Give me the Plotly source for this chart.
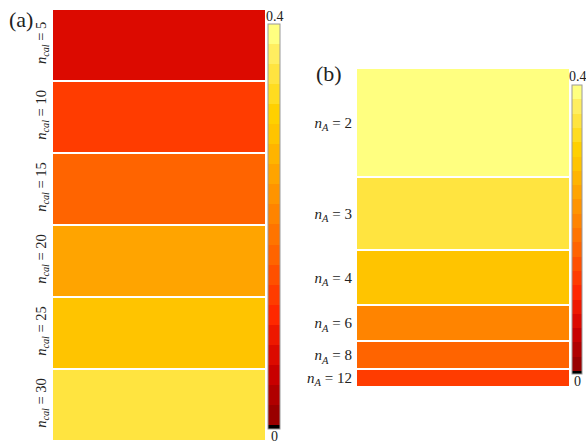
import plotly.graph_objects as go

# Panel (a): one error value per calibration-set size
ncal = [5, 10, 15, 20, 25, 30]
err_a = [0.080, 0.135, 0.180, 0.255, 0.300, 0.350]

# Panel (b): one error value per number of anchors
n_a = [2, 3, 4, 6, 8, 12]
err_b = [0.395, 0.350, 0.300, 0.220, 0.180, 0.135]

ZMIN, ZMAX = 0.0, 0.4

# Stepped "hot"-like palette: thin black floor, then 20 discrete bands
band_colors = [
    "#990000", "#b00000", "#c80000", "#dc0a00", "#ee1800",
    "#ff2800", "#ff3c00", "#ff5000", "#ff6400", "#ff7400",
    "#ff8400", "#ff9400", "#ffa400", "#ffb400", "#ffc400",
    "#ffd000", "#ffdc20", "#ffe440", "#ffee60", "#ffff80",
]
black_frac = 0.01
colorscale = [[0.0, "#000000"], [black_frac, "#000000"]]
step = (1.0 - black_frac) / len(band_colors)
for i, c in enumerate(band_colors):
    lo = black_frac + i * step
    hi = black_frac + (i + 1) * step
    colorscale.append([lo, c])
    colorscale.append([min(hi, 1.0), c])

SERIF = "Liberation Serif, Times New Roman, Times, serif"
W, H = 586, 443

# Row edges: equal rows for (a), rows sized by 1/n_A for (b)
edges_a = list(range(len(ncal) + 1))
edges_b = [0.0]
for n in n_a:
    edges_b.append(edges_b[-1] + 1.0 / n)
centers_a = [(edges_a[i] + edges_a[i + 1]) / 2 for i in range(len(ncal))]
centers_b = [(edges_b[i] + edges_b[i + 1]) / 2 for i in range(len(n_a))]

fig = go.Figure()

fig.add_trace(go.Heatmap(
    z=[[v] for v in err_a], x=[0, 1], y=edges_a,
    zmin=ZMIN, zmax=ZMAX, colorscale=colorscale, ygap=2,
    xaxis="x", yaxis="y",
    colorbar=dict(
        x=268 / W, xanchor="left", y=1 - 24 / H, yanchor="top",
        lenmode="pixels", len=405, thickness=12, thicknessmode="pixels",
        outlinewidth=1, outlinecolor="#9a9a9a", xpad=0, ypad=0,
        showticklabels=False, ticks="",
    ),
))

fig.add_trace(go.Heatmap(
    z=[[v] for v in err_b], x=[0, 1], y=edges_b,
    zmin=ZMIN, zmax=ZMAX, colorscale=colorscale, ygap=2,
    xaxis="x2", yaxis="y2",
    colorbar=dict(
        x=572 / W, xanchor="left", y=1 - 85 / H, yanchor="top",
        lenmode="pixels", len=289, thickness=10, thicknessmode="pixels",
        outlinewidth=1, outlinecolor="#9a9a9a", xpad=0, ypad=0,
        showticklabels=False, ticks="",
    ),
))

ticktext_a = [f"<i>n</i><sub><i>cal</i></sub> = {n}" for n in ncal]
ticktext_b = [f"<i>n</i><sub><i>A</i></sub> = {n}" for n in n_a]

fig.update_layout(
    width=W, height=H,
    margin=dict(l=0, r=0, t=0, b=0),
    paper_bgcolor="white", plot_bgcolor="white",
    font=dict(family=SERIF, color="#222222"),
    xaxis=dict(domain=[53 / W, 265 / W], range=[0, 1], visible=False,
               anchor="y"),
    yaxis=dict(
        domain=[0.004, 1 - 9 / H], range=[edges_a[-1], 0], anchor="x",
        tickvals=centers_a, ticktext=ticktext_a, tickangle=-90,
        ticks="", showgrid=False, zeroline=False, showline=False,
        tickfont=dict(family=SERIF, size=14.5, color="#222222"),
        ticklabelstandoff=3,
    ),
    xaxis2=dict(domain=[357 / W, 569 / W], range=[0, 1], visible=False,
                anchor="y2"),
    yaxis2=dict(
        domain=[1 - 387 / H, 1 - 68 / H], range=[edges_b[-1], 0],
        anchor="x2",
        tickvals=centers_b, ticktext=ticktext_b,
        ticks="", showgrid=False, zeroline=False, showline=False,
        tickfont=dict(family=SERIF, size=15, color="#222222"),
        ticklabelstandoff=4,
    ),
)

annotations = [
    dict(text="(a)", x=21 / W, y=1 - 19 / H),
    dict(text="(b)", x=329 / W, y=1 - 73 / H),
]
for a in annotations:
    a.update(xref="paper", yref="paper", showarrow=False,
             xanchor="center", yanchor="middle",
             font=dict(family=SERIF, size=22, color="#222222"))

# Colorbar end labels (0 at bottom, 0.4 on top)
bar_labels = [
    dict(text=f"{ZMAX:g}", x=274.5 / W, y=1 - 16 / H),
    dict(text=f"{ZMIN:g}", x=274.5 / W, y=1 - 436 / H),
    dict(text=f"{ZMAX:g}", x=577.5 / W, y=1 - 77 / H),
    dict(text=f"{ZMIN:g}", x=577.5 / W, y=1 - 381 / H),
]
for a in bar_labels:
    a.update(xref="paper", yref="paper", showarrow=False,
             xanchor="center", yanchor="middle",
             font=dict(family=SERIF, size=14, color="#222222"))

fig.update_layout(annotations=annotations + bar_labels)

fig.write_html("out.html")
